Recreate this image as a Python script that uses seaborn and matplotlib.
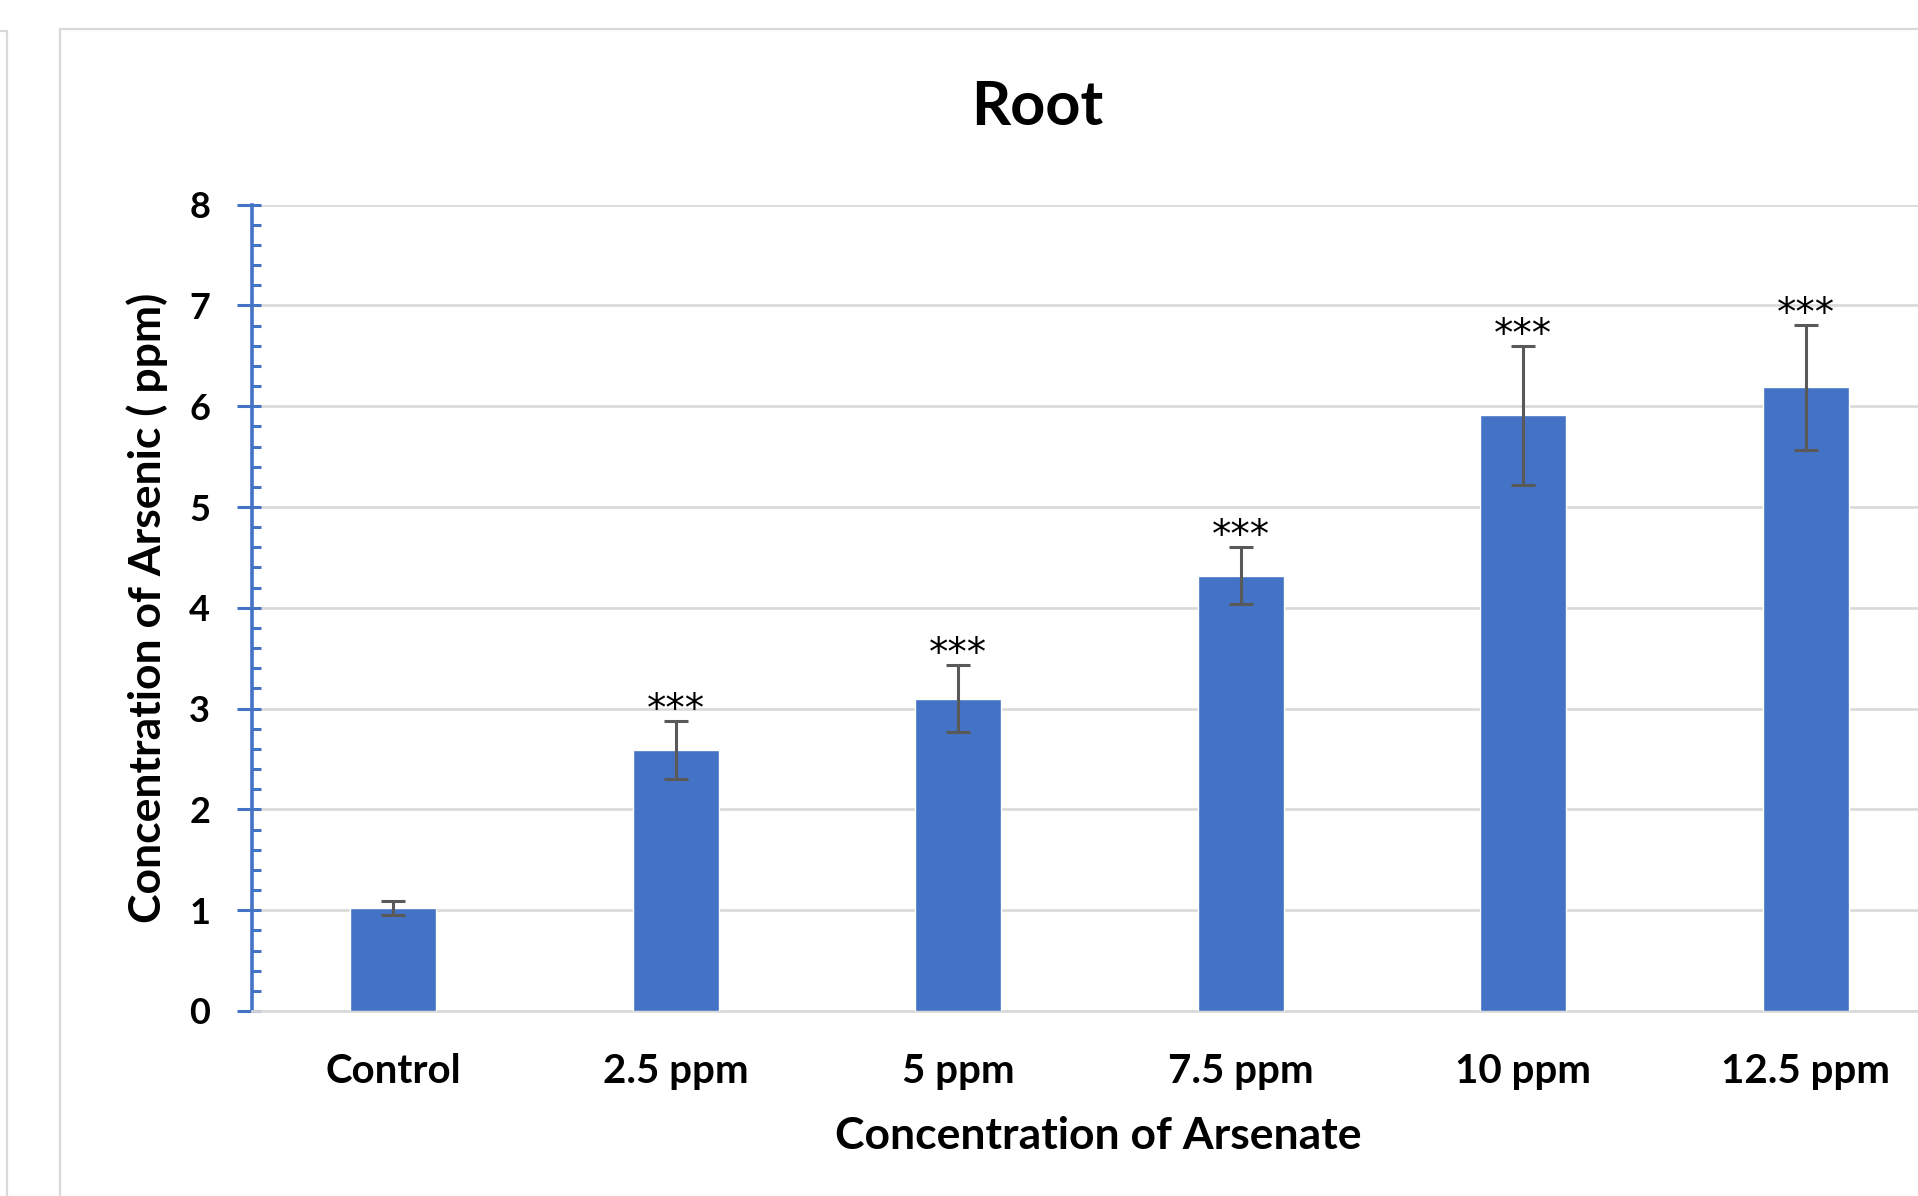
"""Root arsenic concentration bar chart."""
import matplotlib
matplotlib.use('Agg')
import matplotlib.pyplot as plt
from matplotlib.lines import Line2D
from matplotlib.ticker import MultipleLocator
import numpy as np
import pandas as pd
import seaborn as sns

categories = ['Control', '2.5 ppm', '5 ppm', '7.5 ppm', '10 ppm', '12.5 ppm']
means = [1.02, 2.59, 3.10, 4.32, 5.91, 6.19]
errors = [0.07, 0.29, 0.33, 0.28, 0.69, 0.62]
stars = ['', '***', '***', '***', '***', '***']

BLUE = '#4472C4'
GRID = '#d9d9d9'
ERR = '#595959'

sns.set_theme(style='white')
plt.rcParams['font.family'] = ['Lato', 'DejaVu Sans']
plt.rcParams['text.color'] = 'black'
plt.rcParams['axes.labelcolor'] = 'black'

W, H = 1918, 1196
fig = plt.figure(figsize=(W / 100, H / 100), dpi=100)

# plot area runs past the right edge of the picture, like the cropped original
left, right, bottom, top = 252, 1947, 1011, 204.6
ax = fig.add_axes([left / W, 1 - bottom / H, (right - left) / W, (bottom - top) / H])

df = pd.DataFrame({'group': categories, 'value': means})
sns.barplot(data=df, x='group', y='value', color=BLUE, saturation=1,
            width=0.305, errorbar=None, ax=ax, zorder=3)

x = np.arange(len(categories))
ax.errorbar(x, means, yerr=errors, fmt='none', ecolor=ERR, elinewidth=2.2,
            capsize=8.6, capthick=2.2, zorder=4)

for xi, m, e, s in zip(x, means, errors, stars):
    if s:
        ax.annotate(s, (xi, m + e), xytext=(0, 0), textcoords='offset points',
                    ha='center', va='baseline', fontsize=28,
                    family=['DejaVu Sans'], color='black', zorder=5)

ax.set_xlim(-0.5, len(categories) - 0.5)
ax.set_ylim(0, 8)
ax.yaxis.set_major_locator(MultipleLocator(1))
ax.yaxis.set_minor_locator(MultipleLocator(0.2))
ax.yaxis.remove_overlapping_locs = False
ax.grid(axis='y', color=GRID, linewidth=1.9, zorder=0)
ax.set_axisbelow(True)

for side in ['top', 'right']:
    ax.spines[side].set_visible(False)
ax.spines['bottom'].set_color(GRID)
ax.spines['bottom'].set_linewidth(1.9)
ax.spines['left'].set_color(BLUE)
ax.spines['left'].set_linewidth(2.6)

ax.tick_params(axis='y', which='major', direction='out', length=11, width=2.2,
               color=BLUE, labelcolor='black', pad=19, labelsize=26, left=True)
ax.tick_params(axis='y', which='minor', direction='in', length=6.5, width=2.2,
               color=BLUE, left=True)
ax.tick_params(axis='x', length=0, pad=30, labelsize=29, labelcolor='black')
for lab in ax.get_xticklabels() + ax.get_yticklabels():
    lab.set_fontweight('bold')

ax.set_xlabel('Concentration of Arsenate', fontsize=32, fontweight='bold')
ax.set_ylabel('Concentration of Arsenic ( ppm)', fontsize=32, fontweight='bold')
ax.xaxis.set_label_coords((1098 - left) / (right - left), -(1116 - bottom) / (bottom - top))
ax.yaxis.set_label_coords(-(left - 168) / (right - left), 0.5)

fig.text(1037 / W, 1 - 107 / H, 'Root', ha='center', va='center',
         fontsize=44, fontweight='bold')

# chart frame and the edge of the neighbouring chart
fig.add_artist(Line2D([60 / W, 60 / W], [0, 1 - 29 / H], color=GRID, lw=1.6))
fig.add_artist(Line2D([60 / W, 1], [1 - 29 / H, 1 - 29 / H], color=GRID, lw=1.6))
fig.add_artist(Line2D([7 / W, 7 / W], [0, 1 - 31 / H], color=GRID, lw=1.6))
fig.add_artist(Line2D([0, 7 / W], [1 - 31 / H, 1 - 31 / H], color=GRID, lw=1.6))

fig.savefig('out.png', dpi=100, facecolor='white')
